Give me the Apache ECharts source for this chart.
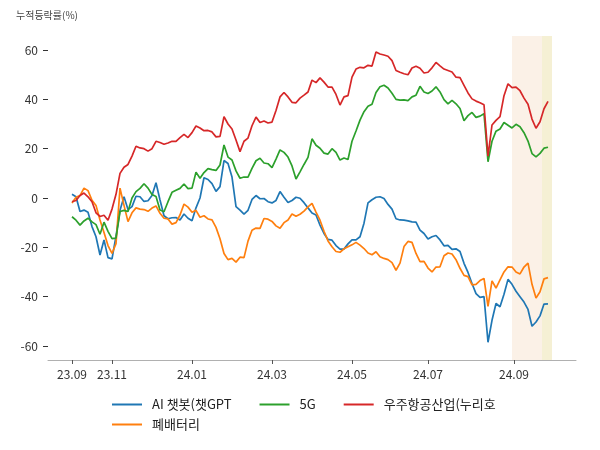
<!DOCTYPE html>
<html>
<head>
<meta charset="utf-8">
<script src="https://cdn.jsdelivr.net/npm/echarts@6/dist/echarts.min.js"></script>
<style>html,body{margin:0;padding:0;background:#fff;}#c{width:600px;height:450px;}</style>
</head>
<body>
<div id="c"></div>
<script>
// trading-day index of each sample (every 2nd trading day from 2023-09 start)
const days = Array.from({length: 120}, (_, i) => i * 2);
const tickDays = [0, 20, 60, 100, 140, 178, 221];
const tickLabels = ['23.09', '23.11', '24.01', '24.03', '24.05', '24.07', '24.09'];
const yTicks = [-60, -40, -20, 0, 20, 40, 60];
const seriesNames = ['AI 챗봇(챗GPT', '폐배터리', '5G', '우주항공산업(누리호'];
const highlight1 = [220, 235];
const highlight2 = [235, 240];

const aiChatbot = [1.5,0.5,-5.5,-4.9,-5.8,-11.6,-15.7,-23.1,-17,-24.2,-24.7,-15.5,-5,0.5,-4.7,-3.5,0.7,0.5,-1.4,-1.1,
 1,6.2,-0.8,-7.2,-8.4,-8,-7.9,-8.9,-6.5,-8.2,-9.2,-4,0,8.2,7.5,5.8,2.7,4.6,15.2,14,
 8.5,-3.5,-4.9,-6.5,-5,-0.6,1,-0.3,-0.2,-1.5,-2,-1,2.6,0.3,-1.8,-1,0.3,-0.1,-1.9,-4,
 -6.1,-6.9,-11,-14.4,-16.8,-17.1,-19.3,-20.7,-20.7,-18.6,-17,-17,-15.7,-10.2,-2,-0.7,0.3,0.5,-0.2,-2.6,
 -4.5,-8.4,-8.9,-9,-9.3,-9.7,-9.8,-13,-14.4,-16.6,-15.7,-15.2,-17,-19.4,-19.2,-20.8,-20.6,-21.7,-26.5,-30.2,
 -34.7,-38.8,-40.3,-40,-58.5,-49.6,-42.8,-44.1,-39,-33,-35,-37.8,-40,-42.2,-45.2,-52,-50.3,-47.8,-43,-42.9];
const battery = [-2,0.3,1,4,3,-0.9,-3,-8.9,-14,-19.3,-22.5,-18.5,4,-3,-9.6,-6,-4,-4.5,-4.7,-5.4,
 -4.1,-3.2,-6.2,-8.2,-8.5,-10.6,-10,-6.9,-2.5,-3.7,-5.8,-5,-7.8,-7.2,-8.5,-8.9,-11.9,-16.5,-22.5,-25,
 -24.5,-26,-24,-24.2,-17.5,-13.1,-12.2,-12.3,-8.3,-8.6,-9.5,-11.3,-12.3,-10,-8.9,-6.5,-7.4,-6.6,-5.3,-3.6,
 -2.2,-5.7,-9,-13.5,-17.4,-19.8,-21.7,-22,-20.6,-19.8,-19,-18,-19.1,-20.5,-22.3,-23,-21.8,-23.8,-24.5,-25,
 -26.2,-29.3,-26.4,-19.7,-17.6,-18,-22.5,-25.8,-25.7,-28.4,-30,-28,-27.9,-23.4,-22.3,-22.7,-25,-28.5,-31.4,-31.9,
 -35.2,-35,-33.5,-32.6,-44,-33.6,-36.5,-33.2,-30,-27.9,-28,-30,-30.8,-28,-26.4,-35,-40.6,-38,-32.8,-32.3];
const fiveG = [-7.6,-9,-11,-9.3,-8.2,-9.7,-10.8,-14.7,-9.8,-13.5,-16.5,-16.3,-5.5,-5,-5.5,0,2.6,3.9,5.8,4,
 1.4,0.6,-4.9,-5.6,-1.5,2.3,3.1,3.9,5.7,3.8,4,10.5,8,10.3,11.9,11.5,11.2,13.4,21.5,16.6,
 15.4,11,8,8.5,8.5,12,15.1,16.1,14.2,13.9,12.3,15.8,19.5,18.5,16.6,13,7.7,10.6,13.6,16.5,
 24,21.4,20.2,18.2,17.8,20,18.5,15.4,16.2,15.6,23,27.2,31.6,35,37.2,38,42.8,45.1,45.7,44.6,
 42.5,40,39.7,39.8,39.5,41,41.7,45.3,43,42.4,43.4,45.1,43,39.9,38.2,39.6,38.2,36.3,31.3,33.4,
 34.7,32.7,33.2,34.2,14.7,23,27.1,28,30.6,29.5,28.4,29.9,28.9,26.5,23.1,18,16.7,18.1,20.2,20.6];
const aerospace = [-1.5,-1,1,2,0.5,-1.5,-6,-7.5,-7,-9,-4.5,1.5,10,12.5,13.6,17,21,20.3,20,19,
 20,23,22.5,21.8,22.3,23,23,24.5,25.8,24.5,26.5,29.2,28.4,27.3,27.4,26.8,24.8,25,33,30,
 28,23.5,18.8,23,24.3,29.3,32.8,30.6,31.2,30.4,30.8,35.5,41,42.8,41,38.8,38.6,40.5,41.7,43,
 47.8,46.8,48.7,47,45,45,42,37.7,41,41.5,49,52.3,53,52.8,53.8,53.5,59.2,58.4,58,57.5,
 55.7,51.7,51,50.4,50,52.7,53.4,52.6,50.7,51,52.8,55,53.6,52.3,51.7,51.1,49,48.8,45.7,42.6,
 40.2,39.3,38.6,37.8,17,29.6,31.5,33,41.5,46.3,44.8,45,43.5,40.5,38,32,28.3,30.9,36.2,39.2];

const colors = ['#1f77b4', '#ff7f0e', '#2ca02c', '#d62728'];
const valuesList = [aiChatbot, battery, fiveG, aerospace];
const font = '"Noto Sans CJK KR", "Noto Sans", sans-serif';

const series = seriesNames.map((name, i) => ({
  name: name,
  type: 'line',
  data: days.map((d, j) => [d, valuesList[i][j]]),
  showSymbol: false,
  symbol: 'none',
  lineStyle: {width: 1.7, color: colors[i]},
  itemStyle: {color: colors[i]},
  z: 3 + i,
  animation: false
}));
series[0].markArea = {
  silent: true,
  data: [
    [{xAxis: highlight1[0], itemStyle: {color: 'rgba(243,214,186,0.35)'}}, {xAxis: highlight1[1]}],
    [{xAxis: highlight2[0], itemStyle: {color: 'rgba(232,222,160,0.45)'}}, {xAxis: highlight2[1]}]
  ]
};
series[0].z = 2;

const legendBase = {
  left: 107, icon: 'rect', itemWidth: 30, itemHeight: 2, itemGap: 28,
  textStyle: {fontSize: 13, color: '#222', fontFamily: font, padding: [0, 0, 0, 5]}
};

const chart = echarts.init(document.getElementById('c'), null, {renderer: 'canvas'});
chart.setOption({
  animation: false,
  textStyle: {fontFamily: font},
  title: {
    text: '누적등락률(%)', left: 11, top: 5,
    textStyle: {fontSize: 10, fontWeight: 'normal', color: '#444', fontFamily: font}
  },
  grid: {left: 48, right: 24, top: 36, bottom: 90},
  xAxis: {
    type: 'value', min: -12, max: 252,
    axisLine: {show: true, onZero: false, lineStyle: {color: '#b0b0b0', width: 1}},
    axisTick: {show: true, customValues: tickDays, length: 4, lineStyle: {color: '#555'}},
    axisLabel: {
      customValues: tickDays, margin: 8, fontSize: 12, color: '#333', fontFamily: font,
      formatter: v => tickLabels[tickDays.indexOf(v)]
    },
    splitLine: {show: false}
  },
  yAxis: {
    type: 'value', min: -65.7, max: 65.7,
    axisLine: {show: false, onZero: false},
    axisTick: {show: true, customValues: yTicks, length: 5, lineStyle: {color: '#333'}},
    axisLabel: {customValues: yTicks, margin: 10, fontSize: 12, color: '#333', fontFamily: font},
    splitLine: {show: false}
  },
  legend: [
    Object.assign({}, legendBase, {data: [seriesNames[0], seriesNames[2], seriesNames[3]], top: 393}),
    Object.assign({}, legendBase, {data: [seriesNames[1]], top: 413})
  ],
  series: series
});
</script>
</body>
</html>
